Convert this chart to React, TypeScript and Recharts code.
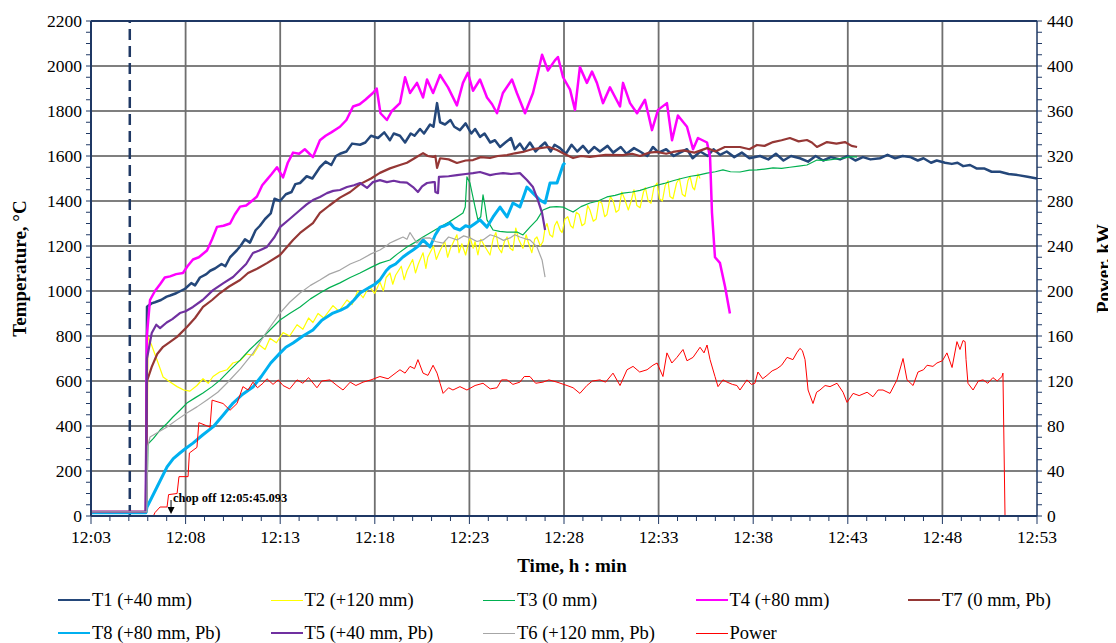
import React from "react";
import {
  LineChart, Line, XAxis, YAxis, CartesianGrid, ReferenceLine, ReferenceDot,
} from "recharts";

// time is minutes after 12:00
const TIME_TICKS = [3, 8, 13, 18, 23, 28, 33, 38, 43, 48, 53];
const TEMP_TICKS = [0, 200, 400, 600, 800, 1000, 1200, 1400, 1600, 1800, 2000, 2200];
const POWER_TICKS = [0, 40, 80, 120, 160, 200, 240, 280, 320, 360, 400, 440];
const CHOP_LINE_T = 5.05;
const CHOP_ARROW_T = 7.23;

const T1 = [[3,15],[5.9,15],[5.96,930],[6.2,945],[6.38,950],[6.7,960],[7.0,975],[7.18,980],[7.5,990],[7.97,1010],[8.3,1035],[8.5,1025],[8.76,1060],[9.1,1075],[9.3,1090],[9.55,1100],[9.9,1120],[10.1,1110],[10.35,1150],[10.7,1180],[10.9,1200],[11.14,1230],[11.4,1215],[11.7,1270],[11.93,1290],[12.2,1320],[12.5,1345],[12.7,1410],[12.99,1400],[13.3,1430],[13.6,1440],[13.8,1475],[14.05,1480],[14.4,1510],[14.7,1500],[15.1,1550],[15.4,1575],[15.7,1560],[15.95,1600],[16.16,1610],[16.5,1620],[16.8,1655],[17.22,1650],[17.5,1660],[17.8,1690],[18.17,1680],[18.5,1705],[18.8,1670],[19.0,1700],[19.33,1690],[19.6,1660],[19.9,1700],[20.1,1690],[20.39,1720],[20.6,1700],[20.92,1740],[21.1,1730],[21.29,1835],[21.45,1750],[21.71,1740],[22.0,1760],[22.2,1730],[22.5,1715],[22.8,1745],[23.1,1700],[23.3,1720],[23.56,1685],[23.8,1700],[24.1,1660],[24.35,1670],[24.62,1640],[24.9,1660],[25.2,1680],[25.4,1630],[25.67,1655],[25.9,1625],[26.2,1660],[26.5,1620],[26.73,1640],[27.0,1660],[27.3,1620],[27.5,1650],[27.79,1635],[28.1,1610],[28.4,1650],[28.7,1620],[29.0,1645],[29.3,1615],[29.6,1640],[29.9,1620],[30.3,1645],[30.6,1615],[31.0,1640],[31.3,1610],[31.7,1635],[32.02,1620],[32.4,1600],[32.7,1640],[33.0,1615],[33.4,1630],[33.8,1600],[34.13,1615],[34.5,1630],[34.8,1590],[35.2,1620],[35.6,1600],[35.9,1630],[36.25,1605],[36.6,1620],[37.0,1595],[37.4,1615],[37.8,1590],[38.36,1600],[38.8,1585],[39.2,1610],[39.6,1580],[40.0,1600],[40.47,1590],[40.9,1575],[41.3,1600],[41.7,1580],[42.1,1595],[42.59,1585],[43.0,1600],[43.4,1580],[43.8,1595],[44.2,1585],[44.7,1590],[45.1,1605],[45.5,1590],[45.9,1600],[46.29,1596],[46.7,1580],[47.0,1590],[47.4,1570],[47.7,1580],[48.14,1570],[48.5,1565],[48.8,1570],[49.1,1555],[49.46,1560],[49.8,1545],[50.2,1545],[50.6,1530],[51.04,1530],[51.5,1520],[52.0,1515],[52.5,1508],[53.0,1500]];

const T2 = [[3,18],[5.95,18],[6.01,796],[6.2,760],[6.49,693],[6.81,618],[7.1,600],[7.55,575],[7.9,560],[8.23,555],[8.6,580],[8.92,610],[9.2,590],[9.45,620],[9.8,640],[10.19,650],[10.5,680],[10.88,690],[11.2,720],[11.56,715],[11.9,760],[12.2,740],[12.46,790],[12.8,770],[13.15,815],[13.5,800],[13.89,850],[14.2,830],[14.5,880],[14.73,860],[15.0,900],[15.3,880],[15.79,935],[16.1,910],[16.53,960],[16.8,940],[17.1,1000],[17.38,970],[17.7,1020],[18.0,990],[18.27,1040],[18.45,1000],[18.6,1060],[18.8,1080],[18.95,1030],[19.1,1070],[19.4,1110],[19.55,1050],[19.7,1090],[20.0,1140],[20.15,1080],[20.3,1120],[20.55,1170],[20.7,1100],[20.8,1150],[21.1,1200],[21.25,1140],[21.45,1180],[21.7,1220],[21.85,1150],[22.0,1190],[22.34,1250],[22.45,1170],[22.6,1210],[22.8,1160],[23.03,1240],[23.2,1190],[23.3,1220],[23.45,1160],[23.6,1230],[23.8,1200],[24.09,1160],[24.25,1230],[24.4,1260],[24.55,1190],[24.7,1170],[24.85,1220],[24.99,1240],[25.15,1190],[25.3,1180],[25.45,1280],[25.6,1230],[25.83,1190],[26.0,1250],[26.1,1220],[26.3,1170],[26.45,1230],[26.57,1240],[26.75,1200],[26.89,1220],[27.0,1280],[27.1,1300],[27.25,1250],[27.4,1240],[27.5,1290],[27.63,1310],[27.8,1270],[27.9,1260],[28.05,1320],[28.2,1330],[28.35,1290],[28.48,1280],[28.65,1350],[28.8,1340],[28.95,1290],[29.1,1300],[29.25,1380],[29.37,1360],[29.55,1310],[29.7,1320],[29.85,1400],[30.0,1390],[30.15,1330],[30.27,1340],[30.45,1420],[30.6,1400],[30.75,1350],[30.9,1360],[31.05,1440],[31.2,1410],[31.4,1360],[31.55,1400],[31.7,1450],[31.85,1380],[32.02,1370],[32.2,1440],[32.3,1460],[32.45,1400],[32.6,1390],[32.75,1460],[32.92,1480],[33.05,1410],[33.2,1400],[33.35,1470],[33.5,1490],[33.6,1420],[33.76,1410],[33.95,1480],[34.1,1500],[34.25,1430],[34.4,1420],[34.55,1490],[34.66,1510],[34.8,1460],[34.9,1450],[35.08,1520],[35.19,1500]];

const T3 = [[3,18],[5.95,18],[6.01,320],[6.3,345],[6.65,382],[7.0,410],[7.33,440],[7.7,470],[8.07,502],[8.5,525],[8.92,547],[9.4,575],[9.82,604],[10.3,645],[10.88,693],[11.4,740],[11.93,782],[12.5,830],[12.99,871],[13.5,900],[14.05,929],[14.6,965],[15.1,991],[15.6,1015],[16.16,1036],[16.7,1060],[17.22,1080],[17.8,1105],[18.27,1124],[18.8,1138],[19.2,1165],[19.7,1196],[20.1,1215],[20.55,1240],[21.0,1262],[21.45,1284],[21.9,1305],[22.34,1329],[22.66,1347],[22.78,1373],[22.87,1507],[23.03,1480],[23.3,1373],[23.45,1316],[23.6,1330],[23.72,1427],[23.82,1380],[23.93,1316],[24.25,1271],[24.6,1265],[24.99,1262],[25.52,1262],[25.83,1249],[26.2,1284],[26.57,1316],[26.89,1360],[27.26,1373],[27.6,1375],[27.95,1373],[28.2,1362],[28.48,1351],[28.9,1375],[29.37,1391],[29.8,1400],[30.27,1418],[30.7,1425],[31.12,1435],[31.6,1440],[32.02,1447],[32.5,1460],[32.92,1470],[33.3,1478],[33.76,1490],[34.2,1500],[34.7,1510],[35.1,1515],[35.56,1524],[36.0,1530],[36.4,1538],[36.8,1530],[37.3,1529],[37.8,1537],[38.2,1538],[38.6,1542],[39.05,1547],[39.5,1545],[39.94,1550],[40.4,1555],[40.84,1560],[41.37,1582],[41.8,1580],[42.22,1585],[42.7,1590],[43.12,1596],[43.49,1596]];

const T4 = [[3,18],[5.9,18],[5.95,800],[6.12,960],[6.38,1000],[6.65,1030],[6.9,1060],[7.18,1065],[7.5,1075],[7.86,1080],[8.1,1110],[8.39,1140],[8.7,1150],[9.13,1180],[9.4,1230],[9.66,1285],[10.0,1290],[10.35,1300],[10.6,1340],[10.88,1375],[11.2,1380],[11.5,1400],[11.77,1420],[12.05,1470],[12.3,1495],[12.55,1520],[12.83,1550],[13.15,1505],[13.4,1570],[13.68,1615],[14.0,1610],[14.3,1630],[14.73,1595],[15.1,1670],[15.4,1690],[15.7,1705],[16.16,1730],[16.5,1760],[16.85,1820],[17.2,1830],[17.5,1850],[17.9,1880],[18.1,1900],[18.3,1790],[18.64,1760],[18.9,1800],[19.33,1835],[19.6,1950],[19.86,1880],[20.23,1925],[20.55,1860],[20.76,1940],[21.08,1880],[21.45,1960],[21.87,1905],[22.34,1825],[22.66,1925],[22.92,1970],[23.19,1890],[23.56,1940],[23.93,1860],[24.2,1830],[24.46,1790],[24.77,1880],[25.25,1940],[25.51,1880],[25.94,1790],[26.36,1880],[26.62,1970],[26.84,2050],[27.15,1980],[27.52,2025],[27.68,2040],[27.95,1950],[28.32,1895],[28.58,1805],[28.84,1995],[29.21,1925],[29.48,1975],[29.74,1925],[30.06,1835],[30.43,1905],[30.96,1820],[31.12,1925],[31.49,1835],[31.86,1790],[32.28,1850],[32.65,1715],[32.97,1805],[33.44,1835],[33.71,1670],[34.02,1780],[34.5,1730],[34.82,1630],[35.08,1680],[35.56,1660],[35.72,1595],[35.82,1350],[35.98,1150],[36.24,1125],[36.51,1020],[36.77,900]];

const T7 = [[3,18],[5.9,18],[5.96,600],[6.21,663],[6.5,720],[6.81,752],[7.2,775],[7.55,796],[8.07,840],[8.5,880],[8.92,929],[9.4,960],[9.82,991],[10.3,1020],[10.88,1049],[11.3,1080],[11.8,1100],[12.3,1124],[12.99,1160],[13.68,1227],[14.05,1258],[14.73,1302],[15.1,1347],[15.6,1380],[16.16,1415],[16.7,1440],[17.22,1475],[17.8,1500],[18.27,1525],[18.8,1545],[19.33,1560],[19.7,1570],[20.1,1590],[20.55,1613],[20.8,1600],[21.08,1596],[21.2,1600],[21.29,1547],[21.45,1590],[21.9,1585],[22.34,1569],[22.8,1580],[23.19,1582],[23.6,1595],[24.09,1591],[24.5,1600],[24.99,1604],[25.4,1612],[25.83,1618],[26.3,1630],[26.73,1635],[27.2,1640],[27.63,1627],[28.0,1610],[28.48,1591],[28.9,1600],[29.37,1596],[30.2,1605],[31.12,1604],[31.6,1610],[32.02,1600],[32.5,1615],[32.92,1618],[33.4,1610],[33.76,1618],[34.3,1625],[34.9,1615],[35.56,1635],[36.0,1620],[36.5,1640],[37.3,1640],[37.8,1630],[38.2,1649],[38.6,1645],[39.05,1662],[39.5,1670],[39.94,1680],[40.4,1665],[40.84,1671],[41.1,1660],[41.37,1640],[41.9,1662],[42.4,1655],[42.85,1662],[43.2,1645],[43.49,1640]];

const T8 = [[3,15],[5.9,15],[5.96,40],[6.2,80],[6.49,129],[7.02,218],[7.35,255],[7.7,280],[8.0,300],[8.39,324],[8.9,360],[9.45,396],[10.0,450],[10.51,502],[11.0,540],[11.56,573],[12.0,620],[12.5,680],[12.99,724],[13.3,750],[13.68,769],[14.2,800],[14.73,827],[15.2,870],[15.79,902],[16.2,915],[16.53,929],[16.9,960],[17.22,991],[17.75,1018],[18.0,1030],[18.27,1049],[18.6,1090],[18.8,1107],[19.1,1120],[19.49,1151],[19.8,1170],[20.02,1182],[20.3,1200],[20.55,1227],[20.92,1196],[21.2,1250],[21.45,1284],[21.7,1290],[21.97,1302],[22.2,1280],[22.5,1271],[22.8,1290],[23.03,1284],[23.3,1300],[23.56,1316],[23.93,1284],[24.25,1329],[24.62,1373],[24.99,1329],[25.3,1391],[25.67,1373],[26.04,1462],[26.36,1435],[26.73,1404],[27.0,1391],[27.26,1480],[27.63,1480],[27.95,1560],[28.05,1570]];

const T5 = [[3,18],[5.9,18],[5.96,700],[6.21,813],[6.45,850],[6.65,835],[7.0,860],[7.3,875],[7.7,902],[8.0,910],[8.39,929],[8.9,960],[9.45,1004],[10.0,1035],[10.51,1062],[10.88,1093],[11.2,1120],[11.56,1169],[11.9,1180],[12.3,1196],[12.7,1240],[12.99,1284],[13.5,1320],[14.05,1360],[14.4,1385],[14.73,1404],[15.1,1418],[15.47,1435],[15.8,1445],[16.16,1449],[16.53,1462],[16.9,1470],[17.22,1480],[17.59,1458],[17.9,1484],[18.27,1493],[18.64,1484],[19.0,1490],[19.33,1484],[19.7,1482],[20.02,1462],[20.28,1440],[20.5,1465],[20.76,1480],[21.08,1484],[21.17,1484],[21.2,1440],[21.34,1435],[21.39,1507],[21.9,1510],[22.34,1515],[22.8,1520],[23.19,1524],[23.56,1529],[24.09,1515],[24.4,1520],[24.78,1524],[25.2,1520],[25.67,1524],[26.04,1493],[26.36,1462],[26.62,1404],[26.84,1347],[27.0,1271]];

const T6 = [[3,18],[5.95,18],[6.0,310],[6.12,351],[6.5,370],[7.02,396],[7.5,425],[8.07,458],[8.6,485],[9.13,516],[9.7,550],[10.19,591],[10.9,655],[11.56,724],[12.3,820],[12.99,902],[13.5,950],[14.05,991],[14.6,1025],[15.1,1049],[15.6,1075],[16.16,1093],[16.7,1120],[17.22,1138],[17.8,1165],[18.27,1182],[18.6,1200],[18.8,1213],[19.1,1225],[19.49,1240],[19.7,1230],[19.86,1260],[20.05,1235],[20.23,1213],[20.5,1235],[20.92,1236],[21.2,1220],[21.61,1213],[21.9,1240],[22.34,1227],[22.7,1245],[23.03,1236],[23.4,1220],[23.72,1227],[24.1,1250],[24.46,1240],[24.8,1225],[25.15,1236],[25.4,1250],[25.67,1240],[25.95,1232],[26.2,1227],[26.57,1196],[26.84,1138],[27.0,1062]];

// kW, right axis
const POWER = [[6.3,0],[6.38,3],[6.65,8],[7.02,8],[7.1,19],[7.55,20],[7.65,35],[8.13,35],[8.2,56],[8.6,61],[8.7,83],[9.29,79],[9.4,103],[9.98,100],[10.35,94],[10.72,100],[11.03,115],[11.3,112],[11.56,119],[11.8,114],[12.09,118],[12.3,122],[12.62,117],[12.9,121],[13.15,116],[13.5,113],[13.89,121],[14.2,118],[14.5,123],[14.94,114],[15.2,120],[15.63,121],[16.0,116],[16.32,112],[16.7,119],[17.0,116],[17.38,119],[17.8,121],[18.27,124],[18.7,122],[19.17,128],[19.33,130],[19.6,127],[19.86,133],[20.1,131],[20.28,139],[20.55,127],[20.81,125],[21.08,134],[21.29,127],[21.45,118],[21.61,109],[21.9,114],[22.13,112],[22.5,115],[22.87,112],[23.3,116],[23.72,118],[24.1,113],[24.46,114],[24.7,121],[24.99,121],[25.3,117],[25.67,119],[25.9,124],[26.2,124],[26.5,118],[26.89,119],[27.2,121],[27.63,119],[28.16,116],[28.48,114],[28.84,109],[29.21,116],[29.5,120],[29.9,121],[30.2,119],[30.59,127],[30.96,116],[31.33,130],[31.65,133],[32.0,128],[32.39,130],[32.7,134],[32.92,136],[33.23,124],[33.44,145],[33.7,136],[33.97,141],[34.29,148],[34.5,138],[34.82,141],[35.19,150],[35.4,145],[35.56,152],[35.72,139],[35.98,124],[36.14,115],[36.4,121],[36.62,119],[36.9,117],[37.14,116],[37.3,112],[37.67,121],[37.9,117],[38.09,118],[38.25,128],[38.5,122],[38.73,125],[39.0,129],[39.26,131],[39.5,134],[39.79,141],[40.1,139],[40.3,145],[40.47,149],[40.6,147],[40.74,139],[40.9,112],[41.16,100],[41.35,110],[41.53,112],[41.8,116],[42.06,115],[42.43,118],[42.75,110],[42.96,101],[43.28,109],[43.6,107],[44.02,110],[44.33,106],[44.6,112],[44.86,112],[45.23,109],[45.6,121],[45.92,140],[46.13,121],[46.45,116],[46.71,128],[47.0,130],[47.19,134],[47.5,133],[47.71,136],[48.0,138],[48.24,145],[48.51,132],[48.77,155],[48.93,148],[49.09,156],[49.2,155],[49.25,139],[49.35,118],[49.62,112],[49.9,120],[50.15,121],[50.4,118],[50.67,123],[50.9,120],[51.15,124],[51.2,127],[51.31,0]];

const FONT = '"Liberation Serif", "Times New Roman", serif';
const NAVY = "#1F3864";

const SERIES = [
  { name: "T1 (+40 mm)", pts: T1, color: "#24477A", width: 2.5, axis: "left" },
  { name: "T2 (+120 mm)", pts: T2, color: "#FFFF00", width: 1.2, axis: "left" },
  { name: "T3 (0 mm)", pts: T3, color: "#00B050", width: 1.2, axis: "left" },
  { name: "T4 (+80 mm)", pts: T4, color: "#FF00FF", width: 2.5, axis: "left" },
  { name: "T7 (0 mm, Pb)", pts: T7, color: "#953735", width: 2.2, axis: "left" },
  { name: "T8 (+80 mm, Pb)", pts: T8, color: "#00B0F0", width: 3, axis: "left" },
  { name: "T5 (+40 mm, Pb)", pts: T5, color: "#7030A0", width: 2.2, axis: "left" },
  { name: "T6 (+120 mm, Pb)", pts: T6, color: "#A6A6A6", width: 1.2, axis: "left" },
  { name: "Power", pts: POWER, color: "#FF0000", width: 1, axis: "right" },
];

const toPts = (arr: number[][]) => arr.map(([t, v]) => ({ t, v }));

const minutes = Array.from({ length: 51 }, (_, i) => 3 + i);
const tempMinor = Array.from({ length: 45 }, (_, i) => i * 50);
const powerMinor = Array.from({ length: 45 }, (_, i) => i * 10);

function TimeTick({ x, y, payload }: any) {
  const v = payload.value;
  const major = TIME_TICKS.includes(v);
  return (
    <g>
      <line x1={x} x2={x} y1={y} y2={y + (major ? 8 : 5)} stroke={NAVY} />
      {major && (
        <text x={x} y={y + 21} textAnchor="middle" dominantBaseline="central"
          fontSize={17.5} fontFamily={FONT} fill="#000">
          {`12:${String(v).padStart(2, "0")}`}
        </text>
      )}
    </g>
  );
}

function TempTick({ x, y, payload }: any) {
  const v = payload.value;
  const major = TEMP_TICKS.includes(v);
  return (
    <g>
      <line x1={x} x2={x - 5} y1={y} y2={y} stroke={NAVY} />
      {major && (
        <text x={x - 9} y={y} textAnchor="end" dominantBaseline="central"
          fontSize={17.5} fontFamily={FONT} fill="#000">{v}</text>
      )}
    </g>
  );
}

function PowerTick({ x, y, payload }: any) {
  const v = payload.value;
  const major = POWER_TICKS.includes(v);
  return (
    <g>
      <line x1={x} x2={x + 5} y1={y} y2={y} stroke={NAVY} />
      {major && (
        <text x={x + 10} y={y} textAnchor="start" dominantBaseline="central"
          fontSize={17.5} fontFamily={FONT} fill="#000">{v}</text>
      )}
    </g>
  );
}

function XTitle({ viewBox }: any) {
  if (!viewBox) return null;
  return (
    <text x={viewBox.x + viewBox.width / 2 + 8} y={viewBox.y + 49} textAnchor="middle"
      dominantBaseline="central" fontSize={19} fontWeight="bold" fontFamily={FONT}>
      Time, h : min
    </text>
  );
}

function SideTitle({ viewBox, text, dx }: any) {
  if (!viewBox) return null;
  const cx = viewBox.x + dx;
  const cy = viewBox.y + viewBox.height / 2;
  return (
    <text x={cx} y={cy} transform={`rotate(-90, ${cx}, ${cy})`} textAnchor="middle"
      dominantBaseline="central" fontSize={19} fontWeight="bold" fontFamily={FONT}>
      {text}
    </text>
  );
}

function ChopMark({ cx, cy }: any) {
  return (
    <g>
      <line x1={cx} x2={cx} y1={cy - 16} y2={cy - 6} stroke="#000" strokeWidth={1} />
      <path d={`M${cx - 3.5},${cy - 9} L${cx + 3.5},${cy - 9} L${cx},${cy - 2} Z`} fill="#000" />
      <text x={cx + 2} y={cy - 14} fontSize={12.5} fontWeight="bold" fontFamily={FONT} fill="#000">
        chop off 12:05:45.093
      </text>
    </g>
  );
}

export default function App() {
  return (
    <div style={{ position: "relative", width: 1108, height: 635, fontFamily: FONT }}>
      <LineChart width={1108} height={580} margin={{ top: 13, right: 8, bottom: 12, left: 10 }}>
        <CartesianGrid yAxisId="left" vertical={false} horizontalValues={TEMP_TICKS.slice(1, -1)}
          stroke="#000" strokeWidth={1.2} />
        <CartesianGrid yAxisId="left" horizontal={false} verticalValues={TIME_TICKS.slice(1, -1)}
          stroke="#6f6f6f" strokeWidth={1.8} />
        <XAxis type="number" dataKey="t" domain={[3, 53]} ticks={minutes} interval={0}
          tickSize={0} tickMargin={0} tickLine={false} tick={<TimeTick />} height={60}
          axisLine={{ stroke: NAVY, strokeWidth: 2 }} allowDataOverflow label={<XTitle />} />
        <YAxis yAxisId="left" orientation="left" domain={[0, 2200]} ticks={tempMinor} interval={0}
          tickSize={0} tickMargin={0} tickLine={false} tick={<TempTick />} width={73}
          axisLine={{ stroke: NAVY, strokeWidth: 2 }} allowDataOverflow
          label={<SideTitle text="Temperature, °C" dx={1} />} />
        <YAxis yAxisId="right" orientation="right" domain={[0, 440]} ticks={powerMinor} interval={0}
          tickSize={0} tickMargin={0} tickLine={false} tick={<PowerTick />} width={71}
          axisLine={{ stroke: NAVY, strokeWidth: 1.5 }} allowDataOverflow
          label={<SideTitle text="Power,  kW" dx={66} />} />
        <ReferenceLine yAxisId="left" y={2200} stroke={NAVY} strokeWidth={2} />
        <ReferenceLine yAxisId="left" x={CHOP_LINE_T} stroke="#1F3864" strokeWidth={2.5}
          strokeDasharray="11 6" />
        {SERIES.map((s) => (
          <Line key={s.name} data={toPts(s.pts)} dataKey="v" yAxisId={s.axis} type="linear"
            stroke={s.color} strokeWidth={s.width} dot={false} activeDot={false}
            strokeLinejoin="round" isAnimationActive={false} name={s.name} />
        ))}
        <ReferenceDot yAxisId="left" x={CHOP_ARROW_T} y={0} r={0} shape={<ChopMark />}
          ifOverflow="visible" />
      </LineChart>
      {SERIES.map((s, i) => {
        const col = i < 5 ? i : i - 5;
        const row = i < 5 ? 0 : 1;
        return (
          <div key={s.name} style={{
            position: "absolute", left: 50 + col * 212.5, top: 582 + row * 33, height: 20,
            display: "flex", alignItems: "center", fontSize: 18.5, whiteSpace: "nowrap",
          }}>
            <span style={{ display: "inline-block", width: 32, height: 0,
              borderTop: `${s.width > 2 ? 2.5 : 1.5}px solid ${s.color}`, marginRight: 2 }} />
            <span>{s.name}</span>
          </div>
        );
      })}
    </div>
  );
}
